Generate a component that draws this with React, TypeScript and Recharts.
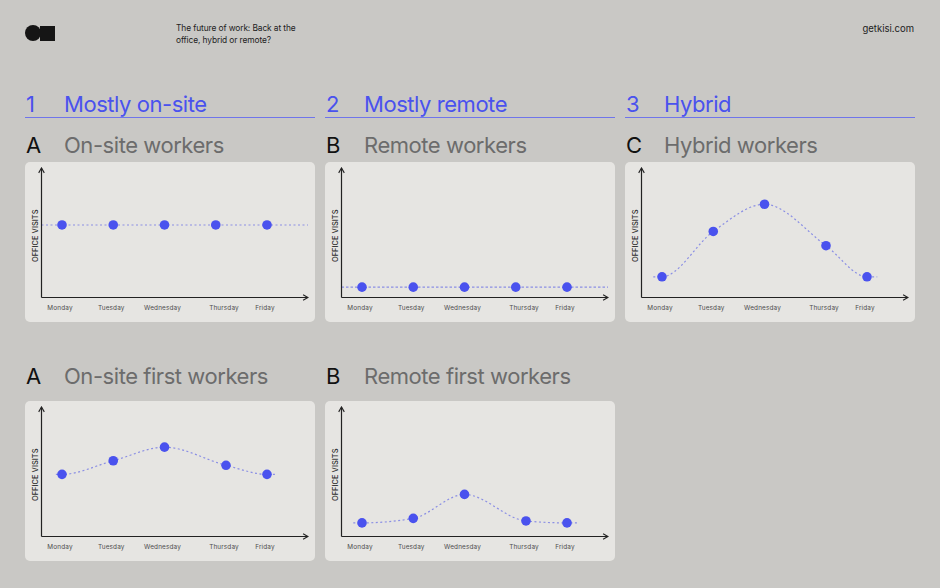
import React from 'react';
import { ComposedChart, Line, Scatter, XAxis, YAxis } from 'recharts';

// ---- data ----
const dayNames = ['Monday', 'Tuesday', 'Wednesday', 'Thursday', 'Friday'];
const dayTicks = [0, 1, 2, 3.2, 4];
const evenDays = [0, 1, 2, 3, 4];
const shiftedDays = [0, 1, 2, 3.2, 4];

const onsiteVisits = [56, 56, 56, 56, 56];
const remoteVisits = [8, 8, 8, 8, 8];
const hybridVisits = [16, 51, 72, 40, 16];
const onsiteFirstVisits = [48, 58.5, 69, 55, 48];
const remoteFirstVisits = [10.5, 14, 32.5, 12, 10.5];

const sectionNumbers = ['1', '2', '3'];
const sectionTitles = ['Mostly on-site', 'Mostly remote', 'Hybrid'];

// ---- style ----
const BG = '#c9c8c5';
const PANEL = '#e6e5e2';
const BLUE = '#4a52ee';
const LINE = '#8b8fe4';
const FONT = 'Inter, "Noto Sans", sans-serif';
const X_DOMAIN: [number, number] = [-0.4, 4.8];

type PanelProps = {
  left: number;
  top: number;
  xs: number[];
  values: number[];
  tails: [number, number];
  dash: string;
};

function DayTick(p: any) {
  const v = p.payload?.value;
  const label = dayNames[dayTicks.indexOf(v)] ?? '';
  return (
    <text
      x={p.x - 2}
      y={p.y}
      dy="0.71em"
      textAnchor="middle"
      fontSize={6.4}
      fontFamily={FONT}
      letterSpacing={0.15}
      fill="#4e4e4e"
    >
      {label}
    </text>
  );
}

function Panel({ left, top, xs, values, tails, dash }: PanelProps) {
  const points = xs.map((x, i) => ({ x, v: values[i] }));
  const lineData = [
    { x: tails[0], v: values[0] },
    ...points,
    { x: tails[1], v: values[values.length - 1] },
  ];
  return (
    <div
      style={{
        position: 'absolute',
        left,
        top,
        width: 290,
        height: 160,
        background: PANEL,
        borderRadius: 5,
      }}
    >
      <ComposedChart
        width={290}
        height={160}
        margin={{ top: 6, right: 7, bottom: 0, left: 4 }}
      >
        <XAxis
          type="number"
          dataKey="x"
          domain={X_DOMAIN}
          allowDataOverflow
          ticks={dayTicks}
          interval={0}
          height={24.5}
          tickLine={false}
          tick={<DayTick />}
          axisLine={{ stroke: '#222', strokeWidth: 1.2, markerEnd: 'url(#arrowHead)' } as any}
        />
        <YAxis
          type="number"
          domain={[0, 100]}
          width={12.5}
          tick={false}
          tickLine={false}
          axisLine={{ stroke: '#222', strokeWidth: 1.2, markerStart: 'url(#arrowHead)' } as any}
          label={{
            content: (p: any) => {
              const vb = p.viewBox || {};
              const cx = (vb.x ?? 0) + 6;
              const cy = (vb.y ?? 0) + (vb.height ?? 0) / 2 + 3;
              return (
                <text
                  x={cx}
                  y={cy}
                  transform={`rotate(-90 ${cx} ${cy})`}
                  textAnchor="middle"
                  dominantBaseline="central"
                  fontSize={7.5}
                  fontFamily={FONT}
                  fontWeight={500}
                  fill="#2a2a2a"
                >
                  OFFICE VISITS
                </text>
              );
            },
          }}
        />
        <Line
          data={lineData}
          dataKey="v"
          type="monotone"
          stroke={LINE}
          strokeWidth={1.2}
          strokeDasharray={dash}
          dot={false}
          activeDot={false}
          isAnimationActive={false}
        />
        <Scatter
          data={points}
          dataKey="v"
          fill={BLUE}
          isAnimationActive={false}
          shape={(p: any) => <circle cx={p.cx} cy={p.cy} r={4.8} fill={BLUE} />}
        />
      </ComposedChart>
    </div>
  );
}

function Heading({ left, top, lead, text, leadColor, color }: { left: number; top: number; lead: string; text: string; leadColor: string; color: string }) {
  const style: React.CSSProperties = {
    position: 'absolute',
    top,
    fontFamily: FONT,
    fontSize: 22,
    lineHeight: '22px',
    letterSpacing: -0.45,
    whiteSpace: 'nowrap',
  };
  return (
    <>
      <div style={{ ...style, left: left + 1, color: leadColor }}>{lead}</div>
      <div style={{ ...style, left: left + 39, color }}>{text}</div>
    </>
  );
}

export default function App() {
  const cols = [25, 325, 625];
  return (
    <div
      style={{
        position: 'absolute',
        left: 0,
        top: 0,
        width: 940,
        height: 588,
        background: BG,
        overflow: 'hidden',
        fontFamily: FONT,
      }}
    >
      <svg width={0} height={0} style={{ position: 'absolute' }}>
        <defs>
          <marker
            id="arrowHead"
            viewBox="0 0 10 10"
            refX={9}
            refY={5}
            markerWidth={7}
            markerHeight={7}
            markerUnits="userSpaceOnUse"
            orient="auto-start-reverse"
          >
            <path d="M2,1 L9,5 L2,9" fill="none" stroke="#222" strokeWidth={1.6} />
          </marker>
        </defs>
      </svg>

      {/* logo */}
      <div style={{ position: 'absolute', left: 25, top: 25, width: 16, height: 16, borderRadius: '50%', background: '#151515' }} />
      <div style={{ position: 'absolute', left: 40, top: 26, width: 15, height: 15, background: '#151515' }} />

      <div
        style={{
          position: 'absolute',
          left: 176,
          top: 23,
          fontSize: 8.4,
          lineHeight: '11.5px',
          color: '#222',
          letterSpacing: -0.1,
        }}
      >
        The future of work: Back at the
        <br />
        office, hybrid or remote?
      </div>
      <div style={{ position: 'absolute', right: 26, top: 23, fontSize: 9.5, color: '#222' }}>getkisi.com</div>

      {/* section headers */}
      {cols.map((x, i) => (
        <React.Fragment key={i}>
          <Heading left={x} top={93} lead={sectionNumbers[i]} text={sectionTitles[i]} leadColor={BLUE} color={BLUE} />
          <div style={{ position: 'absolute', left: x, top: 117, width: 290, height: 1, background: '#6f75ea' }} />
        </React.Fragment>
      ))}

      <Heading left={25} top={134} lead="A" text="On-site workers" leadColor="#111" color="#6c6c6c" />
      <Heading left={325} top={134} lead="B" text="Remote workers" leadColor="#111" color="#6c6c6c" />
      <Heading left={625} top={134} lead="C" text="Hybrid workers" leadColor="#111" color="#6c6c6c" />
      <Heading left={25} top={365} lead="A" text="On-site first workers" leadColor="#111" color="#6c6c6c" />
      <Heading left={325} top={365} lead="B" text="Remote first workers" leadColor="#111" color="#6c6c6c" />

      <Panel left={25} top={162} xs={evenDays} values={onsiteVisits} tails={X_DOMAIN} dash="2 2.5" />
      <Panel left={325} top={162} xs={evenDays} values={remoteVisits} tails={X_DOMAIN} dash="2.5 2" />
      <Panel left={625} top={162} xs={shiftedDays} values={hybridVisits} tails={[-0.17, 4.2]} dash="2 2.5" />
      <Panel left={25} top={401} xs={shiftedDays} values={onsiteFirstVisits} tails={[-0.12, 4.2]} dash="2 2.5" />
      <Panel left={325} top={401} xs={shiftedDays} values={remoteFirstVisits} tails={[-0.17, 4.2]} dash="2 2.5" />
    </div>
  );
}
